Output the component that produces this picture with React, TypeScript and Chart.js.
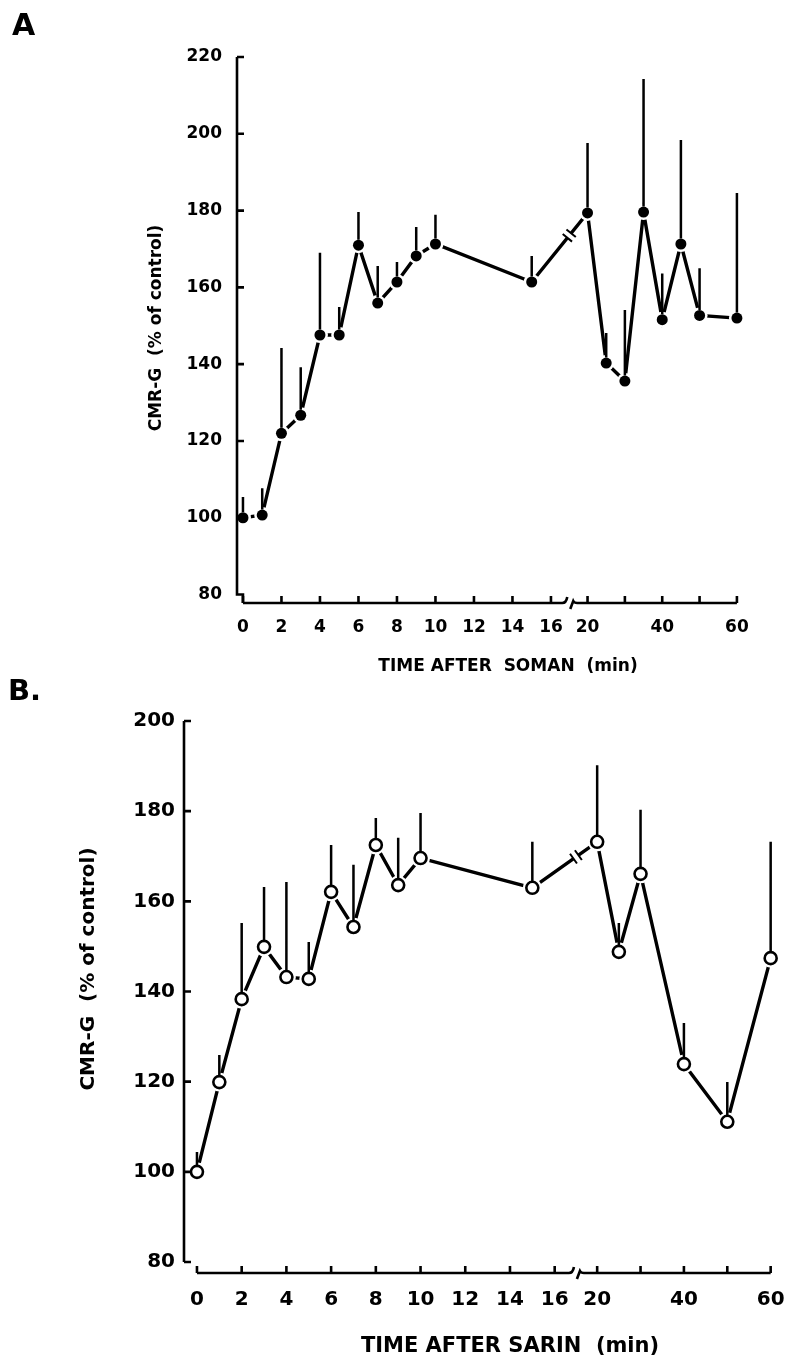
import React, { useEffect, useRef } from 'react';
import { Chart, registerables } from 'chart.js';

Chart.register(...registerables);

// Shared time axis (minutes); 30 and 50 carry tick marks only.
const xTickTimes = [0, 2, 4, 6, 8, 10, 12, 14, 16, 20, 30, 40, 50, 60];
const xTickLabels = ['0', '2', '4', '6', '8', '10', '12', '14', '16', '20', '', '40', '', '60'];

// Panel A: soman
const somanTime = [0, 1, 2, 3, 4, 5, 6, 7, 8, 9, 10, 15, 20, 25, 30, 35, 40, 45, 50, 60];
const somanMean = [100, 100.7, 122, 126.7, 147.6, 147.6, 171, 155.9, 161.4, 168.2, 171.3, 161.4, 179.4, 140.3, 135.6, 179.6, 151.6, 171.3, 152.7, 152];
const somanUpper = [105.4, 107.7, 144.2, 139.2, 169, 154.9, 179.6, 165.6, 166.6, 175.7, 178.9, 168.2, 197.6, 148.1, 154.1, 214.3, 163.6, 198.4, 165, 184.6];
const somanYTicks = [80, 100, 120, 140, 160, 180, 200, 220];

// Panel B: sarin
const sarinTime = [0, 1, 2, 3, 4, 5, 6, 7, 8, 9, 10, 15, 20, 25, 30, 40, 50, 60];
const sarinMean = [100, 119.9, 138.3, 149.9, 143.2, 142.8, 162.1, 154.3, 172.5, 163.6, 169.6, 163, 173.2, 148.8, 166.1, 123.9, 111.1, 147.4];
const sarinUpper = [104.4, 125.9, 155.2, 163.2, 164.3, 151, 172.5, 168.1, 178.5, 174.1, 179.6, 173.2, 190.2, 155.2, 180.3, 133, 119.9, 173.2];
const sarinYTicks = [80, 100, 120, 140, 160, 180, 200];

// Broken time axis: linear in minutes up to the break, compressed from 20 min on.
const BREAK_START = 20;
const BREAK_POS = 17.9;
const LATE_SCALE = 0.194;
const axisPos = (t: number) => (t < BREAK_START ? t : BREAK_POS + (t - BREAK_START) * LATE_SCALE);

const FONT = '"DejaVu Sans", "Liberation Sans", Arial, sans-serif';

type Panel = {
  letter: string;
  xTitle: string;
  yTitle: string;
  times: number[];
  means: number[];
  uppers: number[];
  yTicks: number[];
  filled: boolean;
  top: number;
  height: number;
  area: { left: number; top: number; right: number; bottom: number };
  yMin: number;
  yMax: number;
  xMin: number;
  xMax: number;
  tickSize: number;
  yTickPad: number;
  xTickPad: number;
  markR: number;
  haloR: number;
  letterPos: [number, number];
  letterSize: number;
  xTitlePos: [number, number];
  xTitleSize: number;
  yTitlePos: [number, number];
  yTitleSize: number;
  cornerHook: boolean;
};

const WIDTH = 790;

const panels: Panel[] = [
  {
    letter: 'A',
    xTitle: 'TIME AFTER  SOMAN  (min)',
    yTitle: 'CMR-G  (% of control)',
    times: somanTime,
    means: somanMean,
    uppers: somanUpper,
    yTicks: somanYTicks,
    filled: true,
    top: 0,
    height: 690,
    area: { left: 237, top: 57, right: 745, bottom: 603 },
    yMin: 77.8,
    yMax: 220,
    xMin: -0.31,
    xMax: 26.08,
    tickSize: 17,
    yTickPad: 15,
    xTickPad: 14,
    markR: 5.5,
    haloR: 8,
    letterPos: [12, 35],
    letterSize: 30,
    xTitlePos: [508, 665],
    xTitleSize: 17,
    yTitlePos: [155, 328],
    yTitleSize: 17,
    cornerHook: true,
  },
  {
    letter: 'B.',
    xTitle: 'TIME AFTER SARIN  (min)',
    yTitle: 'CMR-G  (% of control)',
    times: sarinTime,
    means: sarinMean,
    uppers: sarinUpper,
    yTicks: sarinYTicks,
    filled: false,
    top: 660,
    height: 697,
    area: { left: 184, top: 61, right: 785, bottom: 613 },
    yMin: 77.56,
    yMax: 200,
    xMin: -0.58,
    xMax: 26.1,
    tickSize: 20,
    yTickPad: 9,
    xTickPad: 15,
    markR: 6,
    haloR: 9.5,
    letterPos: [8, 40],
    letterSize: 29,
    xTitlePos: [510, 684],
    xTitleSize: 21,
    yTitlePos: [87, 309],
    yTitleSize: 20,
    cornerHook: false,
  },
];

const decorPlugin = (p: Panel) => ({
  id: 'panelDecor',
  afterDatasetsDraw(chart: any) {
    const ctx: CanvasRenderingContext2D = chart.ctx;
    const xs = chart.scales.x;
    const ys = chart.scales.y;
    const ca = chart.chartArea;
    const px = (t: number) => xs.getPixelForValue(axisPos(t));

    ctx.save();
    ctx.strokeStyle = '#000';
    ctx.fillStyle = '#000';
    ctx.lineCap = 'butt';

    // upper error bars
    ctx.lineWidth = 2.5;
    ctx.beginPath();
    p.times.forEach((t, i) => {
      const x = px(t);
      ctx.moveTo(x, ys.getPixelForValue(p.means[i]) - p.markR);
      ctx.lineTo(x, ys.getPixelForValue(p.uppers[i]));
    });
    ctx.stroke();

    // break mark on the trace where the time axis is broken
    const xb = (px(16) + px(20)) / 2;
    const i15 = p.times.indexOf(15);
    const i20 = p.times.indexOf(20);
    const ax = px(15);
    const ay = ys.getPixelForValue(p.means[i15]);
    const bx = px(20);
    const by = ys.getPixelForValue(p.means[i20]);
    const f = (xb - ax) / (bx - ax);
    const cx = ax + f * (bx - ax);
    const cy = ay + f * (by - ay);
    ctx.save();
    ctx.translate(cx, cy);
    ctx.rotate(Math.atan2(by - ay, bx - ax));
    ctx.fillStyle = '#fff';
    ctx.fillRect(-3, -4, 6, 8);
    ctx.lineWidth = 2;
    ctx.beginPath();
    ctx.moveTo(-3, -6);
    ctx.lineTo(-3, 6);
    ctx.moveTo(3, -6);
    ctx.lineTo(3, 6);
    ctx.stroke();
    ctx.restore();

    // axes with inward ticks
    const L = ca.left;
    const Bt = ca.bottom;
    const yTop = ys.getPixelForValue(p.yTicks[p.yTicks.length - 1]);
    const yLow = ys.getPixelForValue(p.yTicks[0]);
    const x0 = px(xTickTimes[0]);
    const xEnd = px(xTickTimes[xTickTimes.length - 1]);

    ctx.lineWidth = 2.6;
    ctx.lineJoin = 'miter';
    ctx.beginPath();
    ctx.moveTo(L, yTop);
    ctx.lineTo(L, yLow);
    if (p.cornerHook) {
      ctx.lineTo(x0, yLow);
      ctx.lineTo(x0, Bt);
    }
    ctx.stroke();

    ctx.beginPath();
    p.yTicks.forEach((v, i) => {
      if (p.cornerHook && i === 0) return;
      const y = ys.getPixelForValue(v);
      ctx.moveTo(L, y);
      ctx.lineTo(L + 7, y);
    });
    ctx.stroke();

    ctx.beginPath();
    ctx.moveTo(x0, Bt);
    ctx.lineTo(xb - 7, Bt);
    ctx.quadraticCurveTo(xb - 3, Bt, xb - 2, Bt - 6);
    ctx.moveTo(xb + 1, Bt + 6);
    ctx.lineTo(xb + 4, Bt - 2);
    ctx.quadraticCurveTo(xb + 5, Bt, xb + 8, Bt);
    ctx.lineTo(xEnd, Bt);
    ctx.stroke();

    ctx.beginPath();
    xTickTimes.forEach((t) => {
      const x = px(t);
      ctx.moveTo(x, Bt);
      ctx.lineTo(x, Bt - 7);
    });
    ctx.stroke();
    ctx.restore();
  },
  afterDraw(chart: any) {
    const ctx: CanvasRenderingContext2D = chart.ctx;
    ctx.save();
    ctx.fillStyle = '#000';
    ctx.textBaseline = 'alphabetic';

    ctx.font = `bold ${p.letterSize}px ${FONT}`;
    ctx.textAlign = 'left';
    ctx.fillText(p.letter, p.letterPos[0], p.letterPos[1]);

    ctx.font = `bold ${p.xTitleSize}px ${FONT}`;
    ctx.textAlign = 'center';
    ctx.fillText(p.xTitle, p.xTitlePos[0], p.xTitlePos[1] + 0.365 * p.xTitleSize);

    ctx.font = `bold ${p.yTitleSize}px ${FONT}`;
    ctx.translate(p.yTitlePos[0] + 0.365 * p.yTitleSize, p.yTitlePos[1]);
    ctx.rotate(-Math.PI / 2);
    ctx.textAlign = 'center';
    ctx.fillText(p.yTitle, 0, 0);
    ctx.restore();
  },
});

function PanelChart({ panel }: { panel: Panel }) {
  const ref = useRef<HTMLCanvasElement | null>(null);

  useEffect(() => {
    const canvas = ref.current;
    if (!canvas) return;
    const points = panel.times.map((t, i) => ({ x: axisPos(t), y: panel.means[i] }));
    const tickFont = { family: FONT, weight: 'bold' as const, size: panel.tickSize };
    const chart = new Chart(canvas, {
      type: 'line',
      data: {
        datasets: [
          {
            label: 'markers',
            data: points,
            showLine: false,
            pointRadius: panel.markR,
            pointBackgroundColor: panel.filled ? '#000' : '#fff',
            pointBorderColor: '#000',
            pointBorderWidth: panel.filled ? 0 : 2.6,
            order: 0,
            clip: false,
          },
          {
            label: 'trace',
            data: points,
            borderColor: '#000',
            borderWidth: 3.4,
            tension: 0,
            fill: false,
            pointRadius: panel.haloR,
            pointBackgroundColor: '#fff',
            pointBorderWidth: 0,
            order: 1,
            clip: false,
          },
        ],
      },
      options: {
        responsive: false,
        animation: false,
        events: [],
        layout: {
          padding: { top: panel.area.top, right: WIDTH - panel.area.right, left: 0, bottom: 0 },
        },
        plugins: { legend: { display: false }, tooltip: { enabled: false } },
        scales: {
          x: {
            type: 'linear',
            min: panel.xMin,
            max: panel.xMax,
            grid: { display: false, drawTicks: false },
            border: { display: false },
            afterBuildTicks: (s: any) => {
              s.ticks = xTickTimes.map((t) => ({ value: axisPos(t) }));
            },
            afterFit: (s: any) => {
              s.height = panel.height - panel.area.bottom;
              s.paddingLeft = 0;
              s.paddingRight = 0;
            },
            ticks: {
              autoSkip: false,
              maxRotation: 0,
              padding: panel.xTickPad,
              color: '#000',
              font: tickFont,
              callback: (_v: any, i: number) => xTickLabels[i],
            },
          },
          y: {
            type: 'linear',
            min: panel.yMin,
            max: panel.yMax,
            grid: { display: false, drawTicks: false },
            border: { display: false },
            afterBuildTicks: (s: any) => {
              s.ticks = panel.yTicks.map((v) => ({ value: v }));
            },
            afterFit: (s: any) => {
              s.width = panel.area.left;
              s.paddingTop = 0;
              s.paddingBottom = 0;
            },
            ticks: {
              padding: panel.yTickPad,
              color: '#000',
              font: tickFont,
              callback: (v: any) => String(v),
            },
          },
        },
      },
      plugins: [decorPlugin(panel)],
    });
    return () => chart.destroy();
  }, [panel]);

  return (
    <canvas
      ref={ref}
      width={WIDTH}
      height={panel.height}
      style={{ position: 'absolute', left: 0, top: panel.top, width: WIDTH, height: panel.height }}
    />
  );
}

export default function App() {
  return (
    <div style={{ position: 'absolute', left: 0, top: 0, width: WIDTH, height: 1357, background: '#fff' }}>
      {panels.map((p) => (
        <PanelChart key={p.letter} panel={p} />
      ))}
    </div>
  );
}
